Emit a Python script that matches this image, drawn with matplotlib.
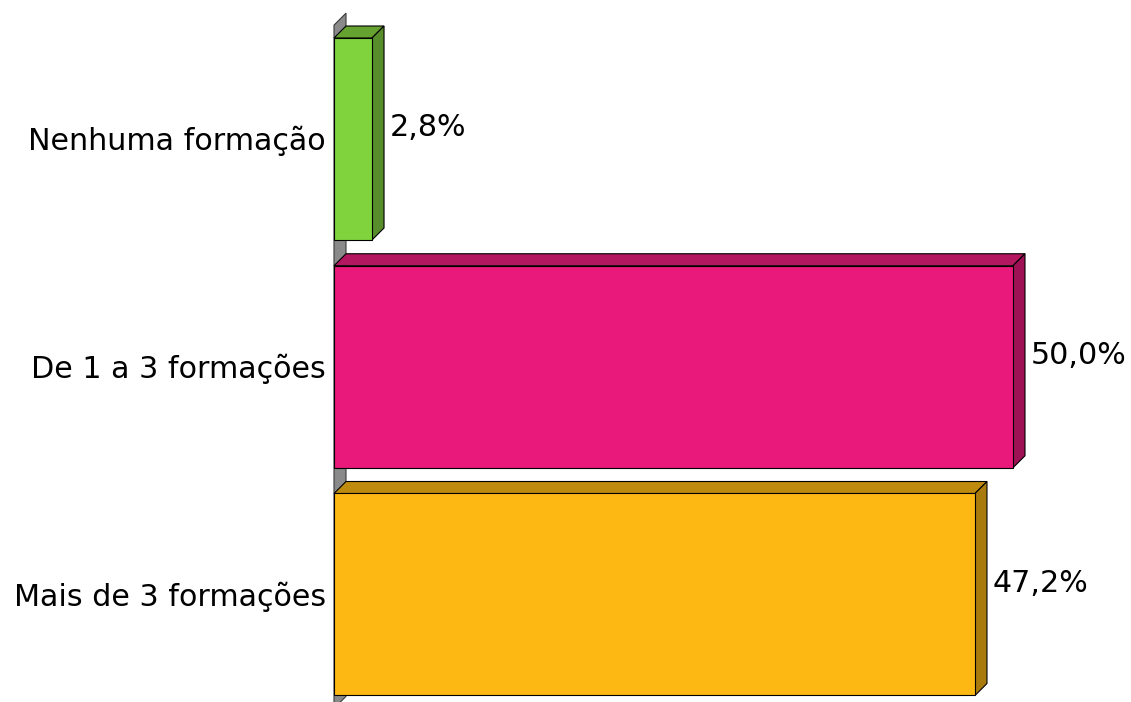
import matplotlib
matplotlib.use("Agg")
import matplotlib.pyplot as plt
from matplotlib.patches import Polygon, Rectangle

plt.rcParams['font.family'] = ['DejaVu Sans']

categories = ["Nenhuma formação", "De 1 a 3 formações", "Mais de 3 formações"]
values = [2.8, 50.0, 47.2]
labels = ["2,8%", "50,0%", "47,2%"]

front_colors = ["#80D33C", "#E8197A", "#FDB813"]
top_colors = ["#66A22F", "#B3175F", "#BF8B0F"]
side_colors = ["#578D2A", "#9E1155", "#A97B0C"]

fig = plt.figure(figsize=(11.31, 7.02), dpi=100)
ax = fig.add_axes([0, 0, 1, 1])

# pixel scale: 0% at x=334 px, 50% at x=1013 px; category spacing ~227.75 px
px_x = (1013 - 334) / 50.0
px_y = 227.75
ax.set_xlim(-334 / px_x, (1131 - 334) / px_x)
ax.set_ylim((702 - 139) / px_y, -139 / px_y)
ax.axis('off')

dx = 12 / px_x   # depth to the right
dy = 12 / px_y   # depth upward
h = 202 / px_y   # bar thickness

# gray side wall
n = len(categories)
wall = Polygon([(0, n - 0.5), (0, -0.5), (dx, -0.5 - dy), (dx, n - 0.5 - dy)],
               closed=True, facecolor="#8A8A8A", edgecolor="#3a3a3a", lw=0.8, zorder=1)
ax.add_patch(wall)

for i, (v, lab) in enumerate(zip(values, labels)):
    y0 = i - h / 2
    y1 = i + h / 2
    top = Polygon([(0, y0), (v, y0), (v + dx, y0 - dy), (dx, y0 - dy)],
                  closed=True, facecolor=top_colors[i], edgecolor="black", lw=0.8, zorder=2)
    side = Polygon([(v, y0), (v + dx, y0 - dy), (v + dx, y1 - dy), (v, y1)],
                   closed=True, facecolor=side_colors[i], edgecolor="black", lw=0.8, zorder=2)
    front = Rectangle((0, y0), v, h, facecolor=front_colors[i], edgecolor="black", lw=0.8, zorder=3)
    ax.add_patch(top)
    ax.add_patch(side)
    ax.add_patch(front)

    ax.text(v + dx + 6 / px_x, i - 11 / px_y, lab, ha='left', va='center', fontsize=21.7, zorder=4)
    ax.text(-8 / px_x, i + 2 / px_y, categories[i], ha='right', va='center', fontsize=21.7, zorder=4)

fig.savefig("out.png", dpi=100)
